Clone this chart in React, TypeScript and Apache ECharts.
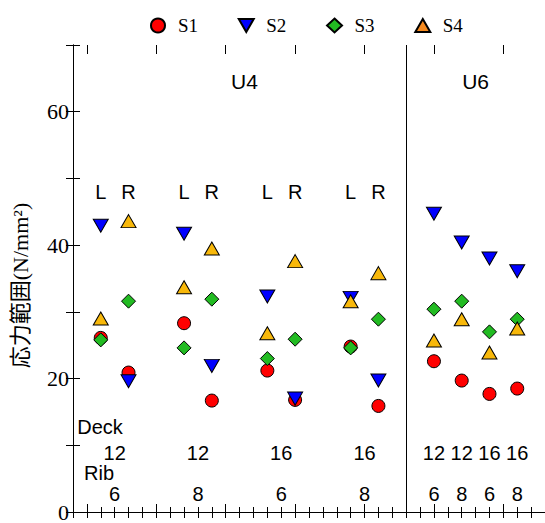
import React, { useEffect, useRef } from "react";
import * as echarts from "echarts";

// Specimen positions along the horizontal axis (U4: four L/R pairs, U6: four single columns)
const xPositions = [2, 4, 8, 10, 14, 16, 20, 22, 26, 28, 30, 32];

// Stress ranges (N/mm²) per measurement point
const s1 = [26.1, 20.9, 28.3, 16.7, 21.2, 16.8, 24.8, 15.9, 22.6, 19.7, 17.7, 18.5];
const s2 = [42.9, 19.6, 41.7, 21.9, 32.3, 17.0, 32.1, 19.7, 44.7, 40.4, 38.0, 36.1];
const s3 = [25.8, 31.6, 24.6, 31.9, 23.0, 25.9, 24.6, 28.9, 30.4, 31.6, 27.0, 28.9];
const s4 = [29.0, 43.6, 33.7, 39.5, 26.8, 37.6, 31.6, 35.8, 25.7, 28.9, 23.9, 27.5];

// Side labels above the U4 pairs
const sideX = [2, 4, 8, 10, 14, 16, 20, 22];
const sideText = ["L", "R", "L", "R", "L", "R", "L", "R"];

// Deck / rib thickness annotations per group
const groupX = [3, 9, 15, 21, 26, 28, 30, 32];
const deckText = ["12", "12", "16", "16", "12", "12", "16", "16"];
const ribText = ["6", "8", "6", "8", "6", "8", "6", "8"];

// Specimen type panels
const panelX = [12.35, 29];
const panelText = ["U4", "U6"];

const yTicks = [0, 20, 40, 60];
const majorXTicks = [1, 6, 11, 16, 21, 26, 31];

const serif = "'Liberation Serif', 'Times New Roman', 'Noto Sans CJK JP', serif";
const sans = "'Liberation Sans', Arial, sans-serif";

const triUp = "path://M7.5,0 L15,13 L0,13 Z";
const triDown = "path://M0,0 L15,0 L7.5,13 Z";

const pairs = (ys: number[]) => xPositions.map((x, i) => [x, ys[i]]);

const textSeries = (
  id: string,
  xs: number[],
  y: number,
  texts: string[],
  position: any,
  fontSize: number
) => ({
  type: "scatter",
  name: id,
  silent: true,
  symbol: "circle",
  symbolSize: 1,
  itemStyle: { color: "rgba(0,0,0,0)" },
  data: xs.map((x, i) => ({ value: [x, y], name: texts[i] })),
  label: {
    show: true,
    position,
    distance: 0,
    formatter: "{b}",
    fontFamily: sans,
    fontSize,
    color: "#000",
    opacity: 1,
    textBorderWidth: 0,
    textBorderColor: "transparent",
  },
  z: 1,
});

export default function App() {
  const ref = useRef<HTMLDivElement>(null);

  useEffect(() => {
    if (!ref.current) return;
    const chart = echarts.init(ref.current, undefined, { renderer: "svg" });

    const edge = { borderColor: "#000", borderWidth: 1 };
    const axisLine = { show: true, lineStyle: { color: "#000", width: 1 } };

    chart.setOption({
      animation: false,
      backgroundColor: "#fff",
      grid: { left: 73, top: 45, width: 477, height: 473.5 },
      legend: {
        top: 11,
        left: 145,
        itemWidth: 15,
        itemHeight: 14,
        itemGap: 39.7,
        textStyle: {
          fontFamily: serif,
          fontSize: 19,
          color: "#000",
          padding: [2, 0, 0, 7.5],
        },
        data: [
          { name: "S1", icon: "circle" },
          { name: "S2", icon: triDown },
          { name: "S3", icon: "diamond" },
          { name: "S4", icon: triUp, itemStyle: { color: "#f68a1f" } },
        ],
      },
      xAxis: [
        {
          type: "value", position: "bottom", min: 0, max: 34, interval: 1,
          axisLine, axisTick: { inside: true, length: 5, lineStyle: { color: "#000" } },
          axisLabel: { show: false }, splitLine: { show: false },
        },
        {
          type: "value", position: "top", min: 0, max: 34, interval: 1,
          axisLine, axisTick: { inside: true, length: 6, lineStyle: { color: "#000" } },
          axisLabel: { show: false }, splitLine: { show: false },
        },
        {
          type: "value", position: "top", min: 0, max: 34,
          axisLine: { show: false },
          axisTick: { inside: true, length: 9, customValues: majorXTicks, lineStyle: { color: "#000" } },
          axisLabel: { show: false }, splitLine: { show: false },
        },
        {
          type: "value", position: "bottom", min: 0, max: 34,
          axisLine: { show: false },
          axisTick: { inside: true, length: 8, customValues: majorXTicks, lineStyle: { color: "#000" } },
          axisLabel: { show: false }, splitLine: { show: false },
        },
      ],
      yAxis: [
        {
          type: "value", position: "left", min: 0, max: 70, interval: 10,
          axisLine, axisTick: { inside: true, length: 7, lineStyle: { color: "#000" } },
          axisLabel: {
            margin: 4,
            fontFamily: serif,
            fontSize: 22,
            color: "#000",
            formatter: (v: number) => (yTicks.includes(v) ? String(v) : ""),
          },
          splitLine: { show: false },
          name: "応力範囲(N/mm²)",
          nameLocation: "middle",
          nameGap: 42,
          nameTextStyle: {
            fontFamily: serif,
            fontSize: 22,
            color: "#000",
            padding: [0, 14, 0, 0],
          },
        },
        {
          type: "value", position: "right", min: 0, max: 70, interval: 10,
          axisLine, axisTick: { inside: true, length: 7, lineStyle: { color: "#000" } },
          axisLabel: { show: false }, splitLine: { show: false },
        },
      ],
      series: [
        {
          ...textSeries("panels", panelX, 64.6, panelText, "inside", 21),
          markLine: {
            silent: true,
            symbol: ["none", "none"],
            label: { show: false },
            lineStyle: { color: "#000", width: 1, type: "solid", opacity: 1 },
            data: [{ xAxis: 24 }],
          },
        },
        textSeries("sides", sideX, 47.9, sideText, "inside", 20),
        textSeries("deck", groupX, 8.9, deckText, "inside", 20),
        textSeries("rib", groupX, 2.74, ribText, "inside", 20),
        textSeries("deckTitle", [0.27], 12.8, ["Deck"], "right", 20),
        textSeries("ribTitle", [0.76], 5.84, ["Rib"], "right", 20),
        {
          name: "S1", type: "scatter", symbol: "circle", symbolSize: 13,
          data: pairs(s1), itemStyle: { color: "#ff0000", opacity: 1, ...edge }, z: 3,
        },
        {
          name: "S2", type: "scatter", symbol: triDown, symbolSize: [15, 13],
          data: pairs(s2), itemStyle: { color: "#0000ff", opacity: 1, ...edge }, z: 3,
        },
        {
          name: "S3", type: "scatter", symbol: "diamond", symbolSize: 14,
          data: pairs(s3), itemStyle: { color: "#22bb22", opacity: 1, ...edge }, z: 3,
        },
        {
          name: "S4", type: "scatter", symbol: triUp, symbolSize: [15, 13],
          data: pairs(s4), itemStyle: { color: "#f8b80a", opacity: 1, ...edge }, z: 3,
        },
      ],
    });

    return () => chart.dispose();
  }, []);

  return (
    <div
      ref={ref}
      style={{ position: "absolute", left: 0, top: 0, width: 545, height: 523 }}
    />
  );
}
